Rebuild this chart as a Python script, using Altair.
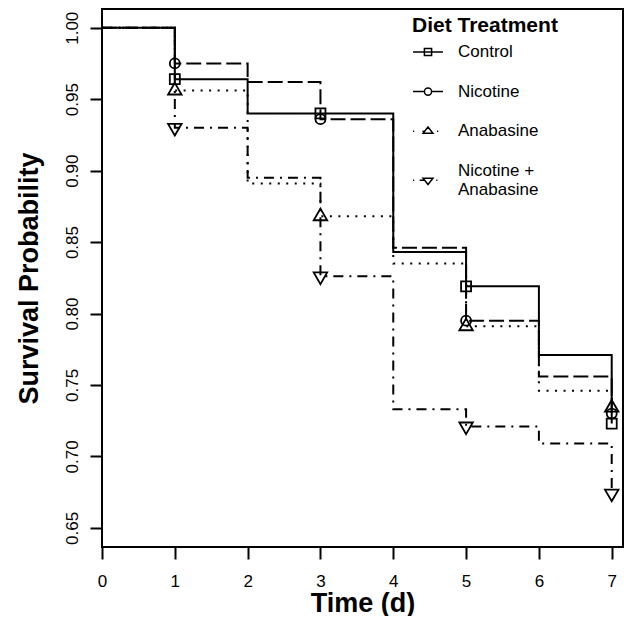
import altair as alt
import pandas as pd

# ---------------- data ----------------
times = [0, 1, 2, 3, 4, 5, 6, 7]
groups = ["Control", "Nicotine", "Anabasine", "Nicotine + Anabasine"]
control = [1.000, 0.964, 0.940, 0.940, 0.843, 0.819, 0.771, 0.723]
nicotine = [1.000, 0.975, 0.962, 0.936, 0.846, 0.795, 0.756, 0.730]
anabasine = [1.000, 0.956, 0.891, 0.868, 0.835, 0.791, 0.746, 0.734]
nic_anab = [1.000, 0.930, 0.895, 0.826, 0.733, 0.721, 0.709, 0.674]
marker_times = [1, 3, 5, 7]
x_ticks = [0, 1, 2, 3, 4, 5, 6, 7]
y_ticks = [0.65, 0.70, 0.75, 0.80, 0.85, 0.90, 0.95, 1.00]

rows = []
for g, vals in zip(groups, [control, nicotine, anabasine, nic_anab]):
    for t, v in zip(times, vals):
        rows.append({"group": g, "time": t, "surv": v})
df = pd.DataFrame(rows)

# ---------------- styles ----------------
FONT = "Liberation Sans"
dashes = [[1, 0], [15, 5], [2, 6.5], [10, 6, 2, 6]]
plot_shapes = [
    "M-1,-1H1V1H-1Z",
    "M1,0A1,1,0,1,1,-1,0A1,1,0,1,1,1,0Z",
    "M0,-1.55L1.35,0.78L-1.35,0.78Z",
    "M0,1.55L1.35,-0.78L-1.35,-0.78Z",
]
legend_shapes = [
    "M-1,0H1M-0.24,-0.24H0.24V0.24H-0.24Z",
    "M-1,0H-0.24M0.24,0H1M0.24,0A0.24,0.24,0,1,1,-0.24,0A0.24,0.24,0,1,1,0.24,0Z",
    "M-1,0H-0.92M-0.37,0H-0.29M0.6,0H0.68M0,-0.28L0.33,0.14L-0.33,0.14Z",
    "M-1,0.63H-0.92M-0.55,0.63H-0.2M0.2,0.63H0.26M0.55,0.63H0.63"
    "M0,0.91L0.33,0.49L-0.33,0.49Z",
]

x_scale = alt.Scale(domain=[0, 7.155], nice=False, zero=False)
y_scale = alt.Scale(domain=[0.6366, 1.0131], nice=False, zero=False)

x_enc = alt.X(
    "time:Q",
    scale=x_scale,
    axis=alt.Axis(
        values=x_ticks,
        format="d",
        title="Time (d)",
        labelPadding=14,
        titleY=64,
        titleBaseline="alphabetic",
    ),
)
y_enc = alt.Y(
    "surv:Q",
    scale=y_scale,
    axis=alt.Axis(
        values=y_ticks,
        format=".2f",
        title="Survival Probability",
        labelAngle=270,
        labelAlign="center",
        labelBaseline="alphabetic",
        labelPadding=13,
        titleAngle=270,
        titleX=-65,
        titleBaseline="alphabetic",
    ),
)

lines = (
    alt.Chart(df)
    .mark_line(interpolate="step-after", color="black", strokeWidth=2)
    .encode(
        x=x_enc,
        y=y_enc,
        strokeDash=alt.StrokeDash(
            "group:N", scale=alt.Scale(domain=groups, range=dashes), legend=None
        ),
    )
)

points = (
    alt.Chart(df)
    .transform_filter(alt.FieldOneOfPredicate(field="time", oneOf=marker_times))
    .mark_point(filled=False, color="black", strokeWidth=1.8, size=100, opacity=1)
    .encode(
        x=x_enc,
        y=y_enc,
        shape=alt.Shape(
            "group:N", scale=alt.Scale(domain=groups, range=plot_shapes), legend=None
        ),
    )
)

label_expr = (
    "datum.label == 'Nicotine + Anabasine' ? "
    "['Nicotine +', '\u00a0\u200aAnabasine'] : datum.label"
)

legend_layer = (
    alt.Chart(df)
    .transform_filter("datum.time < 0")
    .mark_point(filled=False, color="black", strokeWidth=1.5, size=900, opacity=1)
    .encode(
        x=x_enc,
        y=y_enc,
        shape=alt.Shape(
            "group:N",
            scale=alt.Scale(domain=groups, range=legend_shapes),
            legend=alt.Legend(
                title="Diet Treatment",
                orient="none",
                legendX=310,
                legendY=6,
                padding=0,
                titleFont=FONT,
                titleFontSize=21,
                titleFontWeight="bold",
                titleColor="black",
                titleAnchor="start",
                titlePadding=0,
                labelFont=FONT,
                labelFontSize=17,
                labelColor="black",
                labelOffset=14,
                labelExpr=label_expr,
                symbolSize=900,
                symbolStrokeWidth=1.5,
                symbolStrokeColor="black",
                symbolOpacity=1,
                rowPadding=15.6,
            ),
        ),
    )
)

chart = (
    alt.layer(lines, points, legend_layer)
    .resolve_scale(shape="independent")
    .properties(
        width=521,
        height=538,
        padding={"left": 94, "top": 1, "right": 1, "bottom": 69},
        autosize=alt.AutoSizeParams(type="none"),
    )
    .configure_view(stroke="black", strokeWidth=2)
    .configure_axis(
        domain=False,
        grid=False,
        tickColor="black",
        tickWidth=2,
        tickSize=12,
        labelFlush=False,
        labelFont=FONT,
        labelFontSize=17,
        labelColor="black",
        titleFont=FONT,
        titleFontSize=27,
        titleFontWeight="bold",
        titleColor="black",
    )
)

chart.save("out.html", embed_options={"renderer": "svg", "actions": False})
